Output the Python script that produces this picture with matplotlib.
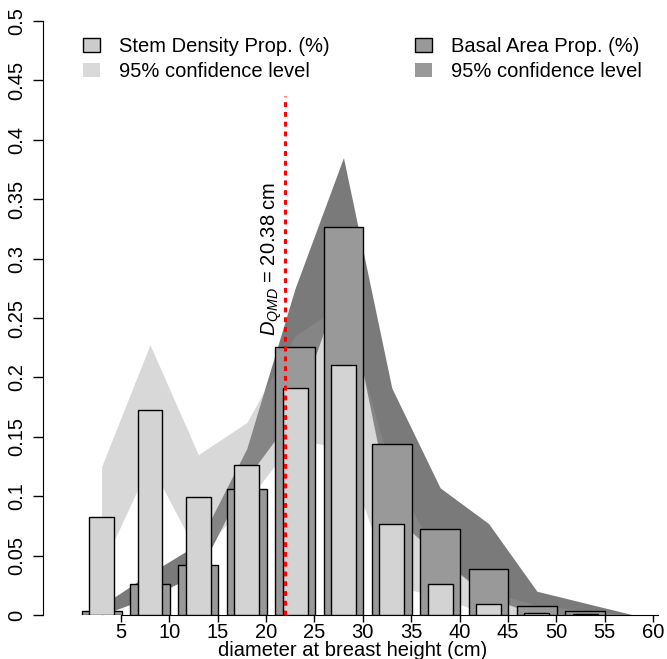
import matplotlib
matplotlib.use("Agg")
import matplotlib.pyplot as plt
from matplotlib.patches import Patch

plt.rcParams['font.family'] = ['Liberation Sans', 'DejaVu Sans']
plt.rcParams['mathtext.fontset'] = 'custom'
plt.rcParams['mathtext.it'] = 'Liberation Sans:italic'
plt.rcParams['mathtext.rm'] = 'Liberation Sans'

# diameter classes (bar positions on the cm axis)
dbh_class = [3, 8, 13, 18, 23, 28, 33, 38, 43, 48, 53]
stem_prop = [0.0823, 0.1727, 0.0997, 0.1264, 0.1912, 0.2106, 0.0764, 0.0264, 0.0095, 0.0014, 0.0008]
basal_prop = [0.0034, 0.0261, 0.0418, 0.1059, 0.226, 0.327, 0.1443, 0.0722, 0.0388, 0.0077, 0.003]

# 95% confidence bands
band_x = [3, 8, 13, 18, 23, 28, 33, 38, 43, 48, 53, 58]
stem_lo = [0.04, 0.128, 0.05, 0.095, 0.148, 0.14, 0.025, 0.015, 0.0, 0.0, 0.0, 0.0]
stem_hi = [0.125, 0.2275, 0.135, 0.162, 0.235, 0.262, 0.12, 0.045, 0.02, 0.008, 0.004, 0.0]
basal_lo = [0.0, 0.015, 0.035, 0.115, 0.17, 0.285, 0.085, 0.048, 0.015, 0.0, 0.0, 0.0]
basal_hi = [0.008, 0.035, 0.06, 0.14, 0.275, 0.385, 0.191, 0.107, 0.077, 0.02, 0.01, 0.0]

qmd_pos = 22.0
qmd_label = r'$D_{QMD}$ = 20.38 cm'

x_ticks = [5, 10, 15, 20, 25, 30, 35, 40, 45, 50, 55, 60]
y_ticks = [0, 0.05, 0.1, 0.15, 0.2, 0.25, 0.3, 0.35, 0.4, 0.45, 0.5]
y_labels = ['0', '0.05', '0.1', '0.15', '0.2', '0.25', '0.3', '0.35', '0.4', '0.45', '0.5']

FS = 14.5
W, H = 667, 659
fig = plt.figure(figsize=(W / 100, H / 100), dpi=100)
ax = fig.add_axes([43 / W, 44 / H, (662 - 43) / W, (615 - 21) / H])
ax.set_xlim(-3.06, 60.93)
ax.set_ylim(0, 0.5)

# bands
ax.fill_between(band_x, basal_lo, basal_hi, color='#7a7a7a', lw=0, zorder=1)
ax.fill_between(band_x, stem_lo, stem_hi, color='#999999', alpha=0.38, lw=0, zorder=2)

# bars
ax.bar(dbh_class, basal_prop, width=4.12, color='#999999', edgecolor='black', lw=1, zorder=3)
ax.bar(dbh_class, stem_prop, width=2.58, color='#d3d3d3', edgecolor='black', lw=1, zorder=4)

# QMD line
ax.plot([qmd_pos, qmd_pos], [0, 0.437], color='red', lw=2.2, ls=(0, (1.6, 1.6)), zorder=5)
ax.text(20.55, 0.30, qmd_label, rotation=90, ha='center', va='center', fontsize=FS, zorder=6)

# axes styling (R-like)
for s in ['top', 'right']:
    ax.spines[s].set_visible(False)
ax.spines['bottom'].set_bounds(5, 60.5)
ax.set_xticks(x_ticks)
ax.set_yticks(y_ticks)
ax.set_yticklabels(y_labels)
ax.tick_params(axis='x', length=5, width=1, pad=0.5, labelsize=FS)
ax.tick_params(axis='y', length=7, width=1, pad=5, labelsize=FS, labelrotation=90)
for lab in ax.get_yticklabels():
    lab.set_va('center')
xl = ax.set_xlabel('diameter at breast height (cm)', fontsize=FS)
xl.set_va('baseline')
ax.xaxis.set_label_coords(0.5, (615 - 656) / 594)

leg_kw = dict(loc='upper left', bbox_transform=fig.transFigure, frameon=False, fontsize=FS,
              borderpad=0, borderaxespad=0, handlelength=0.85, handleheight=0.65,
              handletextpad=0.95, labelspacing=0.3)
leg1 = ax.legend(handles=[Patch(fc='#cccccc', ec='black', lw=1), Patch(fc='#d9d9d9', ec='none')],
                 labels=['Stem Density Prop. (%)', '95% confidence level'],
                 bbox_to_anchor=(83 / W, 1 - 37 / H), **leg_kw)
ax.add_artist(leg1)
ax.legend(handles=[Patch(fc='#999999', ec='black', lw=1), Patch(fc='#999999', ec='none')],
          labels=['Basal Area Prop. (%)', '95% confidence level'],
          bbox_to_anchor=(415 / W, 1 - 37 / H), **leg_kw)

fig.savefig('out.png', dpi=100)
